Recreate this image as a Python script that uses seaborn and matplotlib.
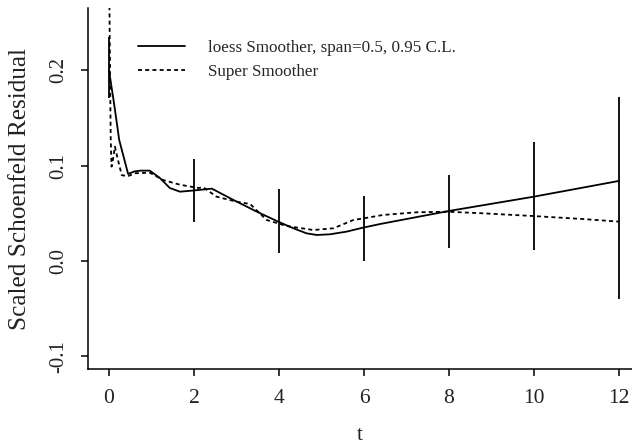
import matplotlib
matplotlib.use("Agg")
import matplotlib.pyplot as plt
from matplotlib.lines import Line2D
import seaborn as sns
import pandas as pd

# loess smoother of the scaled Schoenfeld residuals
loess_t = [0.0, 0.12, 0.24, 0.45, 0.6, 0.75, 0.96, 1.2, 1.43, 1.67, 2.0, 2.42,
           2.93, 3.48, 3.98, 4.34, 4.65, 4.89, 5.2, 5.59, 5.98, 6.38, 8.0, 10.0, 12.0]
loess_y = [0.200, 0.165, 0.127, 0.0913, 0.094, 0.0948, 0.0948, 0.087, 0.0766,
           0.0727, 0.0740, 0.0759, 0.064, 0.0517, 0.0413, 0.0343, 0.029, 0.0273,
           0.028, 0.0308, 0.035, 0.0388, 0.0525, 0.0675, 0.084]

# super smoother of the same residuals
ss_t = [0.0, 0.02, 0.04, 0.06, 0.1, 0.14, 0.2, 0.3, 0.45, 0.6, 0.96, 1.27, 1.67,
        2.1, 2.22, 2.53, 3.0, 3.32, 3.71, 4.18, 4.81, 5.28, 5.75, 6.0, 6.45,
        7.24, 7.97, 8.81, 9.97, 11.16, 12.0]
ss_y = [0.32, 0.22, 0.13, 0.099, 0.108, 0.12, 0.108, 0.09, 0.089, 0.092, 0.0927,
        0.085, 0.080, 0.0766, 0.0773, 0.0675, 0.0622, 0.0598, 0.043, 0.0367,
        0.0325, 0.0343, 0.043, 0.0448, 0.0483, 0.0511, 0.0517, 0.050, 0.0472,
        0.044, 0.0413]

# 0.95 confidence limits of the loess fit
ci_t = [0, 2, 4, 6, 8, 10, 12]
ci_lower = [0.1706, 0.0409, 0.0080, 0.0003, 0.0140, 0.0115, -0.040]
ci_upper = [0.2346, 0.1067, 0.0752, 0.0685, 0.0906, 0.1246, 0.172]

x_ticks = [0, 2, 4, 6, 8, 10, 12]
y_ticks = [-0.1, 0.0, 0.1, 0.2]
y_tick_labels = ["-0.1", "0.0", "0.1", "0.2"]

legend_labels = ["loess Smoother, span=0.5, 0.95 C.L.", "Super Smoother"]

sns.set_style("ticks")
plt.rcParams["font.family"] = ["Liberation Serif", "DejaVu Serif"]

W, H = 632, 446
fig = plt.figure(figsize=(W / 100, H / 100), dpi=100)
ax = fig.add_axes([88 / W, 77 / H, (W - 88) / W, (369 - 8) / H])

dotted = (0, (2.2, 1.8))
lw = 1.3

loess_df = pd.DataFrame({"t": loess_t, "resid": loess_y})
ss_df = pd.DataFrame({"t": ss_t, "resid": ss_y})

sns.lineplot(data=loess_df, x="t", y="resid", ax=ax, color="black",
             linewidth=lw, estimator=None, sort=False)
sns.lineplot(data=ss_df, x="t", y="resid", ax=ax, color="black",
             linewidth=lw, linestyle=dotted, estimator=None, sort=False)
ax.vlines(ci_t, ci_lower, ci_upper, color="black", linewidth=lw)

ax.set_xlim(-0.494, 12.306)
ax.set_ylim(-0.1133, 0.2654)
ax.set_xticks(x_ticks)
ax.set_xticklabels([str(v) for v in x_ticks])
ax.set_yticks(y_ticks)
ax.set_yticklabels(y_tick_labels, rotation=90, va="center")

sns.despine(ax=ax)
for s in ("left", "bottom"):
    ax.spines[s].set_linewidth(1.1)
    ax.spines[s].set_color("black")
ax.tick_params(axis="both", direction="out", length=5.3, width=1.1,
               color="black", labelcolor="#222222")
ax.tick_params(axis="x", pad=9, labelsize=15.5)
ax.tick_params(axis="y", pad=9, labelsize=15)

ax.set_xlabel("t", fontsize=16, color="#222222", labelpad=13)
ax.set_ylabel("Scaled Schoenfeld Residual", fontsize=18.2, color="#222222",
              labelpad=13)

handles = [Line2D([], [], color="black", linewidth=lw),
           Line2D([], [], color="black", linewidth=lw, linestyle=dotted)]
ax.legend(handles, legend_labels, loc="upper left",
          bbox_to_anchor=(50 / 544, 1 - (40 - 8) / 361), frameon=False,
          fontsize=12.3, handlelength=2.75, handletextpad=1.33,
          borderpad=0, borderaxespad=0, labelspacing=0.44)

fig.savefig("out.png", dpi=100)
